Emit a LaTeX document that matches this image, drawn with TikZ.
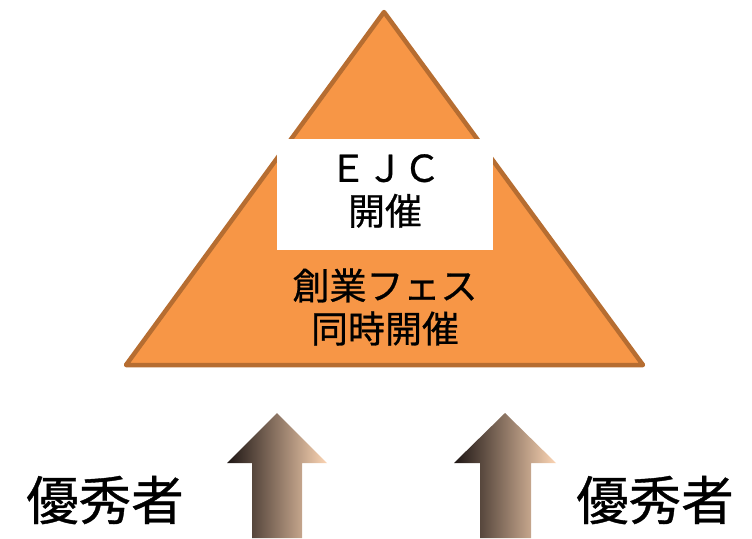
\documentclass[tikz,border=0pt]{standalone}
\usepackage{fontspec}
\newfontfamily\jp[FakeBold=0.7]{Noto Sans CJK JP}
\definecolor{triFill}{HTML}{F79646}
\definecolor{triLine}{HTML}{B66D31}
\definecolor{arrDark}{HTML}{1E1614}
\definecolor{arrLight}{HTML}{FCD5B4}
\tikzset{
  tri/.style={fill=triFill, draw=triLine, line width=4.5pt, line join=round},
  whitebox/.style={fill=white, draw=none, inner sep=0pt, minimum width=216pt, minimum height=111pt, align=center},
  midtext/.style={font=\fontsize{37}{43}\selectfont\jp, align=center, inner sep=0pt, text=black},
  bigtext/.style={font=\fontsize{52.5}{60}\selectfont\jp, inner sep=0pt, text=black},
  uparrow/.style={left color=arrDark, right color=arrLight, draw=none}
}
\begin{document}
\begin{tikzpicture}[x=1pt,y=-1pt]
\useasboundingbox (0,0) rectangle (752,538);
% triangle
\draw[tri] (384,12) -- (643,365) -- (126,365) -- cycle;
% white box
\node[whitebox] (box) at (385,194.5) {};
\node[midtext] (ejc) at (385,191) {ＥＪＣ\\開催};
\node[midtext] (fes) at (385,307) {創業フェス\\同時開催};
% arrows
\path[uparrow] (277,413) -- (327,463) -- (302,463) -- (302,538) -- (252,538) -- (252,463) -- (227,463) -- cycle;
\path[uparrow] (505,413) -- (556,463) -- (531,463) -- (531,538) -- (480,538) -- (480,463) -- (454,463) -- cycle;
% labels
\node[bigtext] (left) at (105,500) {優秀者};
\node[bigtext] (right) at (655,500) {優秀者};
\end{tikzpicture}
\end{document}
